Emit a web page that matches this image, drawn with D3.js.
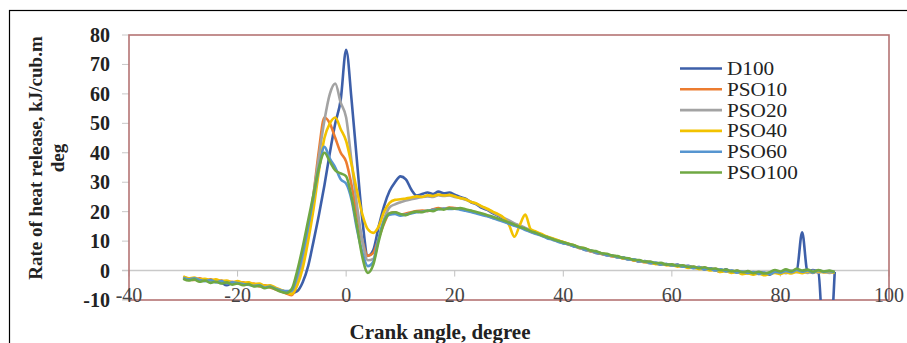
<!DOCTYPE html>
<html><head><meta charset="utf-8">
<script src="https://cdn.jsdelivr.net/npm/d3@7"></script>
<style>body{margin:0;background:#fff}svg{display:block}</style>
</head><body>
<svg id="c" width="907" height="343"></svg>
<script>
const angles = [
-30,-29,-28,-27,-26,-25,-24,-23,-22,-21,
-20,-19,-18,-17,-16,-15,-14,-13,-12,-11,
-10,-9,-8,-7,-6,-5,-4,-3,-2,-1,
0,1,2,3,4,5,6,7,8,9,
10,11,12,13,14,15,16,17,18,19,
20,21,22,23,24,25,26,27,28,29,
30,31,32,33,34,35,36,37,38,39,
40,41,42,43,44,45,46,47,48,49,
50,51,52,53,54,55,56,57,58,59,
60,61,62,63,64,65,66,67,68,69,
70,71,72,73,74,75,76,77,78,79,
80,81,82,83,84,85,86,87,88,89,
90];

const D100 = [
-2.5,-3.0,-2.8,-3.4,-3.0,-3.6,-3.2,-4.0,-5.0,-4.2,
-4.0,-4.6,-4.2,-5.0,-4.8,-5.6,-5.2,-6.2,-6.8,-7.2,
-7.6,-7.0,-4.0,1.5,10,19,29,40,50,58,
75,58,37,17,5,7,15,22,27,30,
32,31,27.5,25.5,26,26.5,26,26.8,26.2,26.5,
25.8,25,24.4,23.2,22.5,21.3,20.6,19.5,18.6,17.6,
16.8,15.8,15.2,14.2,13.6,12.8,12.2,11.2,10.8,10.0,
9.3,9.0,8.2,7.8,7.0,6.8,6.0,5.7,5.2,5.0,
4.5,4.4,3.8,3.6,3.0,3.2,2.6,2.4,2.0,2.2,
1.8,2.0,1.4,1.6,1.0,1.2,0.4,0.8,0.2,-0.4,
0.4,-0.6,-0.2,-1.0,-0.4,-1.2,-0.6,-0.8,-1.4,-0.4,
-0.8,0.2,-0.6,0.0,13,-0.4,0.2,-0.8,-26,-26,
-0.5];

const PSO10 = [
-2.2,-2.8,-3.2,-2.6,-3.4,-3.0,-3.8,-3.4,-4.2,-3.8,
-4.4,-4.0,-4.8,-4.4,-5.4,-5.0,-5.8,-6.4,-7.0,-7.8,
-8.4,-4.5,2.5,13,26,41,52,50,45,40,
37,29,19,10,5,6,11,16,19.5,19.8,
19,19.4,19.8,20.2,20.4,20.2,20.8,21.2,21.0,21.4,
21.2,21.0,20.6,20.2,19.6,19.2,18.6,18.0,17.4,16.8,
16.2,15.4,14.8,14.0,13.2,12.6,12.0,11.2,10.6,10.0,
9.6,8.8,8.5,7.6,7.3,6.5,6.2,5.6,5.4,4.8,
4.7,4.1,4.0,3.4,3.3,2.8,2.9,2.3,2.4,1.9,
2.0,1.5,1.7,1.1,1.3,0.7,1.0,0.3,0.6,-0.2,
0.2,-0.5,-0.1,-0.9,-0.5,-1.1,-0.7,-1.2,-0.9,-0.3,
-0.9,-0.2,-0.7,0.1,-0.5,-0.1,-0.8,0.0,-0.6,-0.3,
-0.7];

const PSO20 = [
-2.6,-3.2,-2.9,-3.5,-3.1,-3.9,-3.5,-4.3,-3.9,-4.5,
-4.1,-4.7,-4.5,-5.1,-4.9,-5.7,-5.3,-6.1,-6.7,-7.1,
-7.3,-3.5,3.5,14,26,39,51,60,63.5,57,
52,37,22,10,3.5,4,11,17.5,21.5,22.5,
23.2,23.8,24.2,24.6,25.0,25.2,25.0,25.6,25.3,25.5,
25.0,24.7,24.0,23.4,22.6,21.6,20.8,19.8,18.8,17.9,
17.0,16.0,15.3,14.5,13.7,13.0,12.1,11.5,10.7,10.2,
9.4,8.9,8.3,7.7,7.2,6.6,6.1,5.8,5.2,5.0,
4.4,4.3,3.7,3.7,3.1,3.0,2.5,2.6,2.1,2.1,
1.7,1.9,1.3,1.5,0.9,1.2,0.5,0.6,0.1,0.3,
-0.2,0.1,-0.6,-0.3,-1.0,-0.6,-1.2,-0.8,-1.0,-0.6,
-0.4,-0.9,0.0,-0.6,-0.2,-0.8,-0.1,-0.7,-0.3,-0.8,
-0.4];

const PSO40 = [
-2.0,-2.6,-2.4,-3.0,-2.8,-3.2,-3.0,-3.6,-3.4,-4.0,
-3.6,-4.2,-4.0,-4.6,-4.4,-5.2,-5.0,-5.8,-6.6,-7.4,
-8.0,-5.0,0.8,10,21,34,45,50,52,48,
44,36,27,19,14,12.8,15,20,23,24,
24.2,24.5,24.8,25.2,25.0,25.6,25.3,25.8,25.5,25.7,
25.2,24.6,24.2,23.3,22.8,21.8,21.0,20.0,19.2,18.0,
15.5,11.5,15.5,19.0,14.0,13.2,12.4,11.6,11.0,10.3,
9.7,9.1,8.6,7.9,7.5,6.8,6.4,5.9,5.5,5.0,
4.8,4.2,4.1,3.5,3.4,2.9,2.8,2.2,2.3,1.8,
1.9,1.4,1.5,0.9,1.0,0.5,0.6,0.0,0.2,-0.5,
-0.2,-0.8,-0.5,-1.2,-0.9,-1.4,-1.0,-1.6,-1.1,-0.8,
-1.2,-0.6,-1.0,-0.4,-0.9,-0.3,-0.7,-0.2,-0.6,-0.4,
-0.8];

const PSO60 = [
-2.4,-3.0,-2.6,-3.2,-3.6,-3.2,-4.0,-3.6,-4.4,-4.0,
-4.2,-4.6,-4.8,-5.2,-5.0,-5.8,-5.4,-6.2,-6.8,-7.0,
-6.8,-1.5,6,15,25,35,42,38,35,31,
29.5,24,14,6,1.5,3,11,17,19,19.2,
18.6,19.0,19.4,19.8,20.0,20.3,20.6,20.8,21.1,20.9,
21.0,20.7,20.3,19.9,19.4,18.9,18.4,17.8,17.2,16.6,
15.9,15.2,14.6,13.8,13.1,12.4,11.8,11.0,10.5,9.8,
9.3,8.9,8.2,7.9,7.1,6.9,6.1,5.9,5.2,5.1,
4.5,4.4,3.8,3.8,3.2,3.1,2.6,2.7,2.1,2.2,
1.7,1.8,1.3,1.4,0.8,1.1,0.4,0.7,0.0,0.4,
-0.3,0.0,-0.7,-0.3,-0.8,-0.5,-1.1,-0.7,-1.2,-0.5,
-0.7,-0.1,-0.6,0.2,-0.4,0.0,-0.7,0.1,-0.5,-0.2,
-0.6];

const PSO100 = [
-2.8,-3.4,-3.0,-3.8,-3.4,-4.2,-3.8,-4.4,-4.0,-4.8,
-4.4,-5.0,-4.6,-5.4,-5.2,-6.0,-5.6,-6.4,-7.2,-7.6,
-6.2,0,8,17,26,35,40,37,34,33,
32,25,15,4.5,-0.8,2,10,16.5,19.5,19.8,
19.2,18.8,19.6,20.0,19.8,20.4,20.2,20.9,20.7,21.2,
21.0,21.2,20.8,20.4,19.9,19.4,18.8,18.3,17.6,17.0,
16.3,15.6,14.8,14.2,13.4,12.8,12.0,11.4,10.7,10.1,
9.6,9.0,8.6,7.8,7.6,6.8,6.6,5.9,5.7,5.1,
4.9,4.3,4.2,3.6,3.6,3.0,3.1,2.5,2.6,2.0,
2.1,1.6,1.8,1.2,1.4,0.8,1.1,0.5,0.7,0.1,
0.3,-0.3,0.0,-0.6,-0.2,-0.9,-0.4,-1.0,-0.6,0.2,
-0.3,0.4,-0.2,0.6,0.0,0.3,-0.4,0.2,-0.3,0.0,
-0.5];

const seriesNames = ["D100","PSO10","PSO20","PSO40","PSO60","PSO100"];
const seriesValues = [D100, PSO10, PSO20, PSO40, PSO60, PSO100];
const seriesColors = ["#3d5fa9","#ec7c30","#a3a3a3","#f2c200","#5695d0","#6fa843"];
const xTicks = [-40,-20,0,20,40,60,80,100];
const yTicks = [-10,0,10,20,30,40,50,60,70,80];
const yTitle1 = "Rate of heat release, kJ/cub.m";
const yTitle2 = "deg";
const xTitle = "Crank angle, degree";

const svg = d3.select("#c");
const L = 129, R = 889, T = 35, B = 300;
const x = d3.scaleLinear().domain([-40,100]).range([L,R]);
const y = d3.scaleLinear().domain([-10,80]).range([B,T]);

// outer frame
svg.append("rect").attr("x",9.5).attr("y",10.5).attr("width",920).attr("height",360)
  .attr("fill","none").attr("stroke","#000").attr("stroke-width",1.2);

// y tick marks
svg.append("g").selectAll("line").data(yTicks).join("line")
  .attr("x1",L-7).attr("x2",L).attr("y1",d=>y(d)).attr("y2",d=>y(d))
  .attr("stroke","#c8c8c8").attr("stroke-width",1);

// zero line
svg.append("line").attr("x1",L-7).attr("x2",R).attr("y1",y(0)).attr("y2",y(0))
  .attr("stroke","#c9c9c9").attr("stroke-width",1.5);
// x tick marks at zero line
svg.append("g").selectAll("line").data(xTicks).join("line")
  .attr("x1",d=>x(d)).attr("x2",d=>x(d)).attr("y1",y(0)).attr("y2",y(0)+6)
  .attr("stroke","#c0c0c0").attr("stroke-width",1);

// plot border
svg.append("rect").attr("x",L).attr("y",T).attr("width",R-L).attr("height",B-T)
  .attr("fill","none").attr("stroke","#b57474").attr("stroke-width",1.6);

// clip
svg.append("clipPath").attr("id","clip").append("rect")
  .attr("x",L).attr("y",T).attr("width",R-L).attr("height",B-T);

const line = d3.line().x((d,i)=>x(angles[i])).y(d=>y(d)).curve(d3.curveMonotoneX);
const g = svg.append("g").attr("clip-path","url(#clip)");
seriesValues.forEach((vals,k)=>{
  g.append("path").datum(vals).attr("d",line)
    .attr("fill","none").attr("stroke",seriesColors[k]).attr("stroke-width",2.6)
    .attr("stroke-linejoin","round");
});

// y tick labels
svg.append("g").selectAll("text").data(yTicks).join("text")
  .attr("x",110).attr("y",d=>y(d)).attr("dy","0.35em").attr("text-anchor","end")
  .attr("font-family","Liberation Serif").attr("font-weight","bold").attr("font-size",20)
  .attr("fill","#222").text(d=>d);

// x tick labels
svg.append("g").selectAll("text").data(xTicks).join("text")
  .attr("x",d=>x(d)).attr("y",302).attr("text-anchor","middle")
  .attr("font-family","Liberation Serif").attr("font-size",20)
  .attr("fill","#444").text(d=>d);

// axis titles
const yt = svg.append("text").attr("transform","translate(0,158) rotate(-90)")
  .attr("text-anchor","middle").attr("font-family","Liberation Serif")
  .attr("font-weight","bold").attr("font-size",19).attr("fill","#222");
yt.append("tspan").attr("x",0).attr("y",42).text(yTitle1);
yt.append("tspan").attr("x",0).attr("y",64).text(yTitle2);

svg.append("text").attr("x",440).attr("y",339).attr("text-anchor","middle")
  .attr("font-family","Liberation Serif").attr("font-weight","bold").attr("font-size",21)
  .attr("fill","#222").text(xTitle);

// legend
const lg = svg.append("g");
seriesNames.forEach((n,k)=>{
  const cy = 68.5 + k*20.8;
  lg.append("line").attr("x1",680).attr("x2",722).attr("y1",cy).attr("y2",cy)
    .attr("stroke",seriesColors[k]).attr("stroke-width",2.6);
  lg.append("text").attr("transform",`translate(727,${cy+6.5}) scale(1.18,1)`)
    .attr("font-family","Liberation Serif")
    .attr("font-size",18).attr("fill","#222").text(n);
});
</script>
</body></html>
